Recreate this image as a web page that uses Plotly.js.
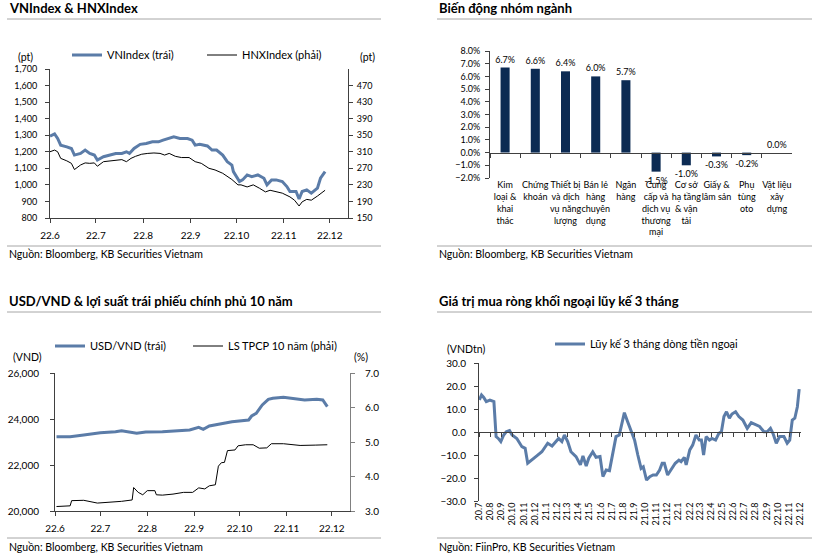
<!DOCTYPE html>
<html><head><meta charset="utf-8">
<script src="https://cdn.plot.ly/plotly-3.0.1.min.js"></script>
<style>html,body{margin:0;padding:0;background:#fff}#chart{width:825px;height:553px}</style>
</head><body><div id="chart"></div>
<script>
// ---------- Panel 1: VNIndex & HNXIndex ----------
const vnDates = ['2022-06-01','2022-06-04','2022-06-06','2022-06-08','2022-06-12','2022-06-15','2022-06-17','2022-06-21','2022-06-24','2022-06-27','2022-06-30','2022-07-02','2022-07-06','2022-07-10','2022-07-14','2022-07-18','2022-07-21','2022-07-23','2022-07-26','2022-07-30','2022-08-03','2022-08-07','2022-08-11','2022-08-14','2022-08-18','2022-08-21','2022-08-25','2022-08-30','2022-09-02','2022-09-04','2022-09-07','2022-09-12','2022-09-15','2022-09-18','2022-09-22','2022-09-25','2022-09-28','2022-09-29','2022-10-03','2022-10-05','2022-10-08','2022-10-11','2022-10-15','2022-10-19','2022-10-21','2022-10-24','2022-10-27','2022-10-31','2022-11-03','2022-11-05','2022-11-09','2022-11-11','2022-11-13','2022-11-16','2022-11-19','2022-11-23','2022-11-25','2022-11-28'];
const vnIndex = [1294,1308,1281,1240,1230,1220,1180,1190,1210,1190,1180,1150,1170,1180,1190,1190,1200,1190,1220,1245,1250,1260,1260,1270,1280,1290,1280,1280,1270,1240,1245,1235,1210,1210,1180,1140,1120,1080,1020,1030,1060,1050,1060,1040,1000,1030,1030,1020,990,960,960,915,960,970,950,980,1040,1080];
const hnxDates = ['2022-06-01','2022-06-04','2022-06-06','2022-06-08','2022-06-12','2022-06-15','2022-06-17','2022-06-21','2022-06-24','2022-06-27','2022-06-30','2022-07-02','2022-07-06','2022-07-10','2022-07-14','2022-07-18','2022-07-21','2022-07-24','2022-07-27','2022-07-31','2022-08-04','2022-08-08','2022-08-12','2022-08-15','2022-08-18','2022-08-22','2022-08-26','2022-08-31','2022-09-04','2022-09-08','2022-09-13','2022-09-17','2022-09-22','2022-09-25','2022-09-28','2022-10-02','2022-10-04','2022-10-08','2022-10-12','2022-10-16','2022-10-20','2022-10-23','2022-10-27','2022-10-31','2022-11-05','2022-11-08','2022-11-11','2022-11-13','2022-11-16','2022-11-19','2022-11-23','2022-11-28'];
const hnxIndex = [310,314,310,294,288,282,267,278,283,282,283,275,286,288,290,291,286,294,299,304,306,307,306,302,306,299,296,296,286,282,270,266,258,250,243,230,230,225,230,222,213,217,213,210,201,193,179,189,195,193,203,217];

// ---------- Panel 2: Biến động nhóm ngành ----------
const sectors = ['Kim<br>loại &<br>khai<br>thác','Chứng<br>khoán','Thiết bị<br>và dịch<br>vụ năng<br>lượng','Bán lẻ<br>hàng<br>chuyên<br>dụng','Ngân<br>hàng','Cung<br>cấp và<br>dịch vụ<br>thương<br>mại','Cơ sở<br>hạ tầng<br>& vận<br>tải','Giấy &<br>lâm sản','Phụ<br>tùng<br>oto','Vật liệu<br>xây<br>dựng'];
const sectorChange = [6.7,6.6,6.4,6.0,5.7,-1.5,-1.0,-0.3,-0.2,0.0];

// ---------- Panel 3: USD/VND & 10Y yield ----------
const usdDates = ['2022-06-02','2022-06-11','2022-06-20','2022-07-01','2022-07-11','2022-07-15','2022-07-25','2022-07-31','2022-08-11','2022-08-20','2022-08-29','2022-09-04','2022-09-07','2022-09-11','2022-09-22','2022-09-26','2022-10-07','2022-10-09','2022-10-12','2022-10-16','2022-10-20','2022-10-23','2022-10-30','2022-11-08','2022-11-13','2022-11-21','2022-11-25','2022-11-28'];
const usdVnd = [23232,23232,23304,23406,23450,23493,23377,23435,23450,23493,23522,23638,23551,23696,23812,23884,23957,24131,24247,24609,24855,24899,24942,24855,24826,24855,24826,24536];
const bondDates = ['2022-06-02','2022-06-11','2022-06-12','2022-06-20','2022-06-29','2022-07-07','2022-07-15','2022-07-22','2022-07-23','2022-07-26','2022-07-29','2022-08-01','2022-08-06','2022-08-07','2022-08-11','2022-08-18','2022-08-25','2022-08-31','2022-09-04','2022-09-08','2022-09-11','2022-09-15','2022-09-17','2022-09-19','2022-09-21','2022-09-23','2022-09-28','2022-09-30','2022-10-05','2022-10-10','2022-10-13','2022-10-14','2022-10-19','2022-10-22','2022-10-30','2022-11-04','2022-11-10','2022-11-20','2022-11-28'];
const bondYield = [3.13,3.15,3.30,3.31,3.23,3.25,3.28,3.32,3.68,3.54,3.47,3.59,3.59,3.47,3.46,3.49,3.54,3.54,3.67,3.64,3.73,3.76,4.30,4.40,4.41,4.75,4.77,4.89,4.92,4.92,4.86,4.82,4.83,4.95,4.95,4.93,4.90,4.91,4.92];

// ---------- Panel 4: foreign net buying, 3-month cumulative ----------
const flowDates = ['2020-07-02','2020-07-08','2020-07-14','2020-07-21','2020-07-31','2020-08-11','2020-08-17','2020-08-23','2020-08-30','2020-09-07','2020-09-14','2020-09-23','2020-09-30','2020-10-13','2020-10-27','2020-11-05','2020-11-12','2020-11-24','2020-12-07','2020-12-21','2021-01-06','2021-01-18','2021-01-27','2021-02-05','2021-02-14','2021-02-21','2021-03-02','2021-03-11','2021-03-25','2021-04-06','2021-04-13','2021-04-22','2021-04-29','2021-05-10','2021-05-19','2021-05-30','2021-06-07','2021-06-16','2021-06-25','2021-07-04','2021-07-13','2021-07-22','2021-07-29','2021-08-05','2021-08-14','2021-08-23','2021-09-02','2021-09-11','2021-09-20','2021-09-26','2021-10-05','2021-10-14','2021-10-23','2021-11-01','2021-11-10','2021-11-17','2021-11-23','2021-12-02','2021-12-11','2021-12-23','2022-01-02','2022-01-08','2022-01-17','2022-01-22','2022-02-01','2022-02-09','2022-02-18','2022-02-27','2022-03-05','2022-03-11','2022-03-18','2022-03-27','2022-04-03','2022-04-13','2022-04-22','2022-04-29','2022-05-06','2022-05-13','2022-05-21','2022-05-28','2022-06-07','2022-06-16','2022-06-27','2022-07-09','2022-07-20','2022-08-01','2022-08-12','2022-08-24','2022-09-02','2022-09-11','2022-09-18','2022-09-27','2022-10-06','2022-10-18','2022-10-27','2022-11-03','2022-11-10','2022-11-17','2022-11-24','2022-11-29'];
const foreignFlow = [13.9,16.1,15.0,13.2,13.9,13.2,-2.0,-2.8,-4.2,-1.3,0.1,0.6,-1.3,-2.8,-6.4,-7.1,-13.6,-12.2,-10.4,-8.6,-4.9,-6.1,-4.2,-2.8,-4.2,-1.3,-4.2,-8.6,-10.7,-14.3,-10.4,-14.8,-11.4,-8.6,-11.0,-10.7,-19.4,-16.5,-16.8,-10.0,-2.0,-1.3,3.8,8.4,4.5,0.7,-3.5,-10.0,-15.8,-15.1,-20.9,-19.4,-18.7,-18.7,-16.5,-13.6,-13.6,-18.7,-16.5,-13.6,-12.2,-12.9,-11.0,-14.3,-7.8,-5.7,-1.3,-3.5,-3.5,-10.0,-2.0,-3.5,-2.8,-3.5,-0.6,0.1,6.7,8.8,6.0,7.8,8.8,6.7,5.2,1.6,4.1,3.1,2.4,0.1,0.1,1.6,-0.7,-4.9,-2.0,-2.0,-4.9,-3.5,5.2,6.0,11.0,18.6];

// ---------- layout helpers ----------
const W = 825, H = 553;
const fx = p => p / W, fy = p => 1 - p / H;
const FONT = 'Lato, "Open Sans", sans-serif';
const BLUE = '#5b7ca8';
const AX = '#404040';
const tickFont = {family: FONT, size: 9, color: '#000'};

const p2Dom = [fy(178), fy(51)], p2Range = [-2, 8];
const p2Zero = p2Dom[0] + (0 - p2Range[0]) / (p2Range[1] - p2Range[0]) * (p2Dom[1] - p2Dom[0]);
const p4Dom = [fy(501), fy(363)], p4Range = [-30, 30];
const p4Zero = p4Dom[0] + (0 - p4Range[0]) / (p4Range[1] - p4Range[0]) * (p4Dom[1] - p4Dom[0]);

const data = [
  {type:'scatter', mode:'lines', x:vnDates, y:vnIndex, xaxis:'x', yaxis:'y', name:'VNIndex (trái)', legend:'legend', line:{color:BLUE, width:3}},
  {type:'scatter', mode:'lines', x:hnxDates, y:hnxIndex, xaxis:'x', yaxis:'y2', name:'HNXIndex (phải)', legend:'legend2', line:{color:'#000', width:1}},
  {type:'bar', x:sectors, y:sectorChange, xaxis:'x2', yaxis:'y3', showlegend:false, marker:{color:'#0c2b53'},
    texttemplate:'%{y:.1f}%', textposition:'outside', constraintext:'none', cliponaxis:false,
    textfont:{family:FONT, size:9, color:'#000'}},
  {type:'scatter', mode:'lines', x:usdDates, y:usdVnd, xaxis:'x3', yaxis:'y4', name:'USD/VND (trái)', legend:'legend3', line:{color:BLUE, width:3}},
  {type:'scatter', mode:'lines', x:bondDates, y:bondYield, xaxis:'x3', yaxis:'y5', name:'LS TPCP 10 năm (phải)', legend:'legend4', line:{color:'#000', width:1}},
  {type:'scatter', mode:'lines', x:flowDates, y:foreignFlow, xaxis:'x4', yaxis:'y6', name:'Lũy kế 3 tháng dòng tiền ngoại', legend:'legend5', line:{color:BLUE, width:3}}
];

const dateAx = (dom, anchor) => ({domain:dom, anchor:anchor, type:'date', range:['2022-06-01','2022-12-13'],
  tick0:'2022-06-01', dtick:'M1', tickformat:'%y.%-m', ticks:'outside', ticklen:4, tickcolor:AX,
  showline:true, linecolor:AX, linewidth:1, showgrid:false, zeroline:false, tickfont:{family:FONT, size:10, color:'#000'}, ticklabelstandoff:4});
const valAx = (o) => Object.assign({ticks:'outside', ticklen:4, tickcolor:AX, showline:true, linecolor:AX, linewidth:1,
  showgrid:false, zeroline:false, tickfont:tickFont}, o);

const legendBase = (x, y) => ({x:fx(x), y:fy(y), xanchor:'left', yanchor:'middle', orientation:'h',
  font:{family:FONT, size:11, color:'#000'}, bgcolor:'rgba(0,0,0,0)', itemwidth:30});

const ann = (text, x, y, opts) => Object.assign({text:text, x:fx(x), y:fy(y), xref:'paper', yref:'paper',
  showarrow:false, xanchor:'left', yanchor:'middle', font:{family:FONT, size:10.5, color:'#000'}}, opts || {});
const titleFont = {family:FONT, size:13, color:'#000', weight:'bold'};

const hline = (x0, x1, y) => ({type:'line', xref:'paper', yref:'paper', x0:fx(x0), x1:fx(x1), y0:fy(y), y1:fy(y),
  line:{color:'#a6a6a6', width:1}});

const layout = {
  width:W, height:H, autosize:false, margin:{l:0, r:0, t:0, b:0},
  paper_bgcolor:'#fff', plot_bgcolor:'rgba(0,0,0,0)', showlegend:true,
  font:{family:FONT, size:9, color:'#000'},
  // panel 1
  xaxis: dateAx([fx(50), fx(348)], 'y'),
  yaxis: valAx({domain:[fy(218), fy(69)], anchor:'x', range:[800,1700], dtick:100, tickformat:',d', ticklabelstandoff:6}),
  yaxis2: valAx({domain:[fy(218), fy(69)], anchor:'x', overlaying:'y', side:'right', range:[150,509.8], tick0:150, dtick:40, ticklabelstandoff:2}),
  // panel 2
  xaxis2: {domain:[fx(490), fx(792)], anchor:'free', position:p2Zero, type:'category', showline:true, linecolor:AX, linewidth:1,
    ticks:'outside', ticklen:4, tickcolor:AX, tickson:'boundaries', showgrid:false, tickfont:tickFont, tickangle:0, ticklabelstandoff:24},
  yaxis3: valAx({domain:p2Dom, anchor:'x2', range:p2Range, dtick:1, tickformat:'.1f', ticksuffix:'%', ticklabelstandoff:3}),
  // panel 3
  xaxis3: dateAx([fx(55), fx(350)], 'y4'),
  yaxis4: valAx({domain:[fy(511), fy(373)], anchor:'x3', range:[20000,26000], dtick:2000, tickformat:',d', ticklabelstandoff:9, tickfont:{family:FONT, size:10, color:'#000'}}),
  yaxis5: valAx({domain:[fy(511), fy(373)], anchor:'x3', overlaying:'y4', side:'right', range:[3,7], dtick:1, tickformat:'.1f', linecolor:'#808080', tickcolor:'#808080', ticklabelstandoff:8, tickfont:{family:FONT, size:10, color:'#000'}}),
  // panel 4
  xaxis4: {domain:[fx(479), fx(801)], anchor:'free', position:p4Zero, type:'date', range:['2020-07-01','2022-12-04'],
    tick0:'2020-07-01', dtick:'M1', tickformat:'%y.%-m', tickangle:-90, ticks:'outside', ticklen:4, tickcolor:AX,
    showline:true, linecolor:AX, linewidth:1, showgrid:false, zeroline:false, tickfont:tickFont, ticklabelstandoff:62},
  yaxis6: valAx({domain:p4Dom, anchor:'x4', range:p4Range, dtick:10, tickformat:'.1f', ticklabelstandoff:6, tickfont:{family:FONT, size:10, color:'#000'}}),
  legend: legendBase(67, 55),
  legend2: legendBase(202, 55),
  legend3: legendBase(50, 346),
  legend4: legendBase(188, 346),
  legend5: legendBase(550, 344),
  annotations: [
    ann('VNIndex & HNXIndex', 7, 8, {font:titleFont}),
    ann('Biến động nhóm ngành', 437, 8, {font:titleFont}),
    ann('USD/VND & lợi suất trái phiếu chính phủ 10 năm', 7, 301, {font:titleFont}),
    ann('Giá trị mua ròng khối ngoại lũy kế 3 tháng', 437, 301, {font:titleFont}),
    ann('Nguồn: Bloomberg, KB Securities Vietnam', 7, 254),
    ann('Nguồn: Bloomberg, KB Securities Vietnam', 437, 254),
    ann('Nguồn: Bloomberg, KB Securities Vietnam', 7, 547),
    ann('Nguồn: FiinPro, KB Securities Vietnam', 437, 547),
    ann('(pt)', 25, 57, {xanchor:'center'}),
    ann('(pt)', 367, 57, {xanchor:'center'}),
    ann('(VND)', 27, 357, {xanchor:'center'}),
    ann('(%)', 361, 357, {xanchor:'center'}),
    ann('(VNDtn)', 466, 349, {xanchor:'center'})
  ],
  shapes: [
    hline(7, 381, 19), hline(437, 812, 19),
    hline(7, 381, 246), hline(437, 812, 246),
    hline(7, 381, 312), hline(437, 812, 312),
    hline(7, 381, 538), hline(437, 812, 538)
  ],
  bargap:0.7
};

Plotly.newPlot('chart', data, layout, {staticPlot:true, displayModeBar:false});
</script>
</body></html>
